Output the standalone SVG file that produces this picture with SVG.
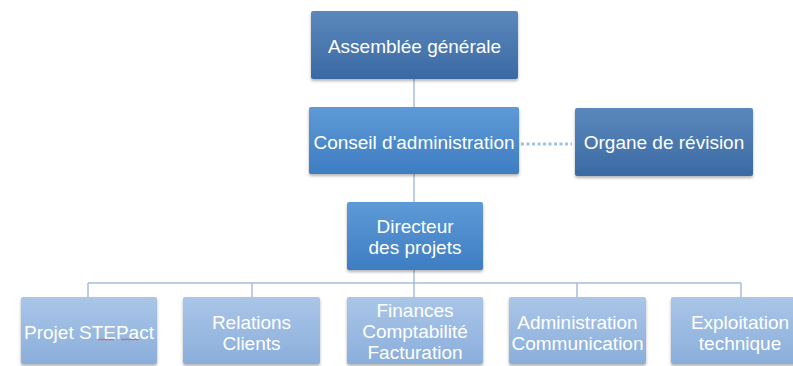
<svg xmlns="http://www.w3.org/2000/svg" width="793" height="366" viewBox="0 0 793 366">
<defs>
<linearGradient id="gDark" x1="0" y1="0" x2="0" y2="1">
<stop offset="0" stop-color="#5b88bc"/><stop offset="1" stop-color="#3a69a3"/>
</linearGradient>
<linearGradient id="gMid" x1="0" y1="0" x2="0" y2="1">
<stop offset="0" stop-color="#5e9ad7"/><stop offset="1" stop-color="#3e7dc2"/>
</linearGradient>
<linearGradient id="gLight" x1="0" y1="0" x2="0" y2="1">
<stop offset="0" stop-color="#aac6e8"/><stop offset="1" stop-color="#8aaedb"/>
</linearGradient>
<filter id="sh" x="-10%" y="-10%" width="120%" height="130%">
<feDropShadow dx="0" dy="2" stdDeviation="1.5" flood-color="#000" flood-opacity="0.3"/>
</filter>
</defs>
<style>
.box{filter:url(#sh);rx:2px}
.dark{fill:url(#gDark)}
.mid{fill:url(#gMid)}
.light{fill:url(#gLight)}
text{font-family:"Liberation Sans",Arial,sans-serif;fill:#fff;text-anchor:middle;font-size:19px}
.conn{stroke:#a6bddc;stroke-width:1.5;fill:none}
</style>
<rect width="793" height="366" fill="#fff"/>
<g id="connectors">
<line class="conn" x1="414" y1="79" x2="414" y2="107" stroke="#86a5cf"/>
<line class="conn" x1="414" y1="174" x2="414" y2="202"/>
<line x1="521" y1="144" x2="572" y2="144" stroke="#9cc3e8" stroke-width="3" stroke-dasharray="3,2.5"/>
<line class="conn" x1="414" y1="270" x2="414" y2="297"/>
<line class="conn" x1="88" y1="283" x2="741" y2="283"/>
<line class="conn" x1="88" y1="283" x2="88" y2="297"/>
<line class="conn" x1="252" y1="283" x2="252" y2="297"/>
<line class="conn" x1="577" y1="283" x2="577" y2="297"/>
<line class="conn" x1="741" y1="283" x2="741" y2="297"/>
</g>
<g id="assemblee">
<rect class="box dark" x="311" y="11" width="207" height="68"/>
<text x="414.5" y="52.5">Assemblée générale</text>
</g>
<g id="conseil">
<rect class="box mid" x="309" y="107" width="210" height="67"/>
<text x="414" y="148.5">Conseil d'administration</text>
</g>
<g id="organe">
<rect class="box dark" x="575" y="108" width="178" height="68"/>
<text x="664" y="148.5">Organe de révision</text>
</g>
<g id="directeur">
<rect class="box mid" x="347" y="202" width="136" height="68"/>
<text x="415" y="232.5">Directeur</text>
<text x="415" y="253.5">des projets</text>
</g>
<g id="projet">
<rect class="box light" x="21" y="297" width="136" height="67"/>
<text x="89" y="338.5">Projet STEPact</text>
<path d="M98 340 l2 -1 l2 1 l2 -1 l2 1 l2 -1 l2 1 l2 -1 l2 1 M121 340 l2 -1 l2 1 l2 -1 l2 1 l2 -1 l2 1 l2 -1 l2 1 l2 -1" stroke="#e04040" stroke-width="0.8" fill="none"/>
</g>
<g id="relations">
<rect class="box light" x="183" y="297" width="137" height="67"/>
<text x="251.5" y="328.5">Relations</text>
<text x="251.5" y="349.5">Clients</text>
</g>
<g id="finances">
<rect class="box light" x="347" y="297" width="136" height="67"/>
<text x="415" y="317">Finances</text>
<text x="415" y="338">Comptabilité</text>
<text x="415" y="359">Facturation</text>
</g>
<g id="administration">
<rect class="box light" x="509" y="297" width="137" height="67"/>
<text x="577.5" y="328.5">Administration</text>
<text x="577.5" y="349.5">Communication</text>
</g>
<g id="exploitation">
<rect class="box light" x="671" y="297" width="136" height="67"/>
<text x="740" y="328.5">Exploitation</text>
<text x="740" y="349.5">technique</text>
</g>
</svg>
